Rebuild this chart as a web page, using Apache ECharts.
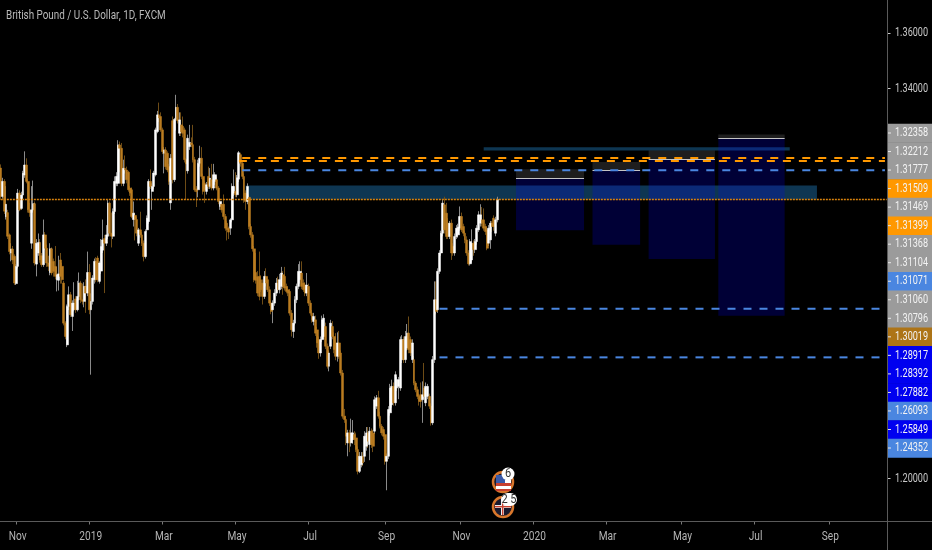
<!DOCTYPE html>
<html><head><meta charset="utf-8">
<style>html,body{margin:0;padding:0;background:#000}#c{width:932px;height:550px}</style>
<script src="https://cdn.jsdelivr.net/npm/echarts@6/dist/echarts.min.js"></script>
</head><body><div id="c"></div>
<script>
const chartTitle = 'British Pound / U.S. Dollar, 1D, FXCM';
const firstDay = '2018-10-19';
const axisPriceLabels = [1.2, 1.34, 1.36];
const sideLabels = ['1.32358','1.32212','1.31777','1.31509','1.31469','1.31399','1.31368','1.31104','1.31071','1.31060','1.30796','1.30019','1.28917','1.28392','1.27882','1.26093','1.25849','1.24352'];
const sideKinds  = ['gray','gray','gray','orange','gray','orange','gray','gray','blue','gray','gray','brown','pure','pure','pure','blue','pure','blue'];
const orangeLevels = [['2019-05-07',1.31509],['2019-05-03',1.31399]];
const blueLevels = [['2019-05-07',1.31071],['2019-10-16',1.26093],['2019-10-16',1.24352]];
const lastPrice = 1.30019;
const zones = [['2019-05-09','2020-08-21',1.30526,1.30019],['2019-11-21','2020-07-30',1.3190,1.3178]];
const boxStart = ['2019-12-18','2020-02-19','2020-04-06','2020-06-02'];
const boxEnd   = ['2020-02-12','2020-03-30','2020-05-29','2020-07-27'];
const boxCap   = [1.31104,1.31368,1.31777,1.32358];
const boxEntry = [1.30796,1.31060,1.31469,1.32212];
const boxFloor = [1.28917,1.28392,1.27882,1.25849];
// [open, close, low, high]
const ohlc = [
[1.3115,1.3013,1.3000,1.3128],[1.3013,1.3067,1.3005,1.3080],[1.3067,1.2960,1.2950,1.3075],[1.2940,1.2985,1.2930,1.3050],[1.2955,1.2870,1.2860,1.2965],
[1.2875,1.2815,1.2805,1.2880],[1.2810,1.2824,1.2780,1.2845],[1.2824,1.2785,1.2770,1.2835],[1.2798,1.2702,1.2695,1.2805],[1.2700,1.2762,1.2695,1.2770],
[1.2762,1.3025,1.2755,1.3040],[1.3025,1.2965,1.2960,1.3035],[1.2970,1.3018,1.2965,1.3030],[1.3018,1.3096,1.3005,1.3105],[1.3090,1.3126,1.3080,1.3175],
[1.3126,1.3067,1.3060,1.3150],[1.3067,1.2965,1.2955,1.3075],[1.2965,1.2955,1.2940,1.2990],[1.2845,1.2965,1.2825,1.3050],[1.2965,1.2987,1.2955,1.3070],
[1.2987,1.2774,1.2765,1.2995],[1.2770,1.2845,1.2726,1.2860],[1.2810,1.2848,1.2800,1.2880],[1.2848,1.2785,1.2775,1.2860],[1.2800,1.2768,1.2760,1.2810],
[1.2768,1.2875,1.2760,1.2930],[1.2875,1.2827,1.2820,1.2885],[1.2827,1.2774,1.2760,1.2840],[1.2774,1.2762,1.2745,1.2800],[1.2740,1.2825,1.2730,1.2845],
[1.2825,1.2738,1.2730,1.2830],[1.2780,1.2744,1.2725,1.2790],[1.2762,1.2726,1.2715,1.2835],[1.2714,1.2732,1.2672,1.2760],[1.2712,1.2735,1.2675,1.2800],
[1.2785,1.2726,1.2700,1.2810],[1.2762,1.2714,1.2700,1.2775],[1.2702,1.2558,1.2550,1.2710],[1.2558,1.2510,1.2500,1.2565],[1.2480,1.2618,1.2472,1.2625],
[1.2618,1.2660,1.2605,1.2690],[1.2660,1.2588,1.2580,1.2670],[1.2582,1.2630,1.2530,1.2640],[1.2606,1.2630,1.2600,1.2705],[1.2645,1.2606,1.2595,1.2655],
[1.2606,1.2654,1.2600,1.2710],[1.2654,1.2702,1.2640,1.2740],[1.2702,1.2642,1.2630,1.2710],[1.2642,1.2636,1.2625,1.2700],[1.2636,1.2690,1.2615,1.2705],
[1.2690,1.2666,1.2595,1.2715],[1.2666,1.2740,1.2655,1.2815],[1.2740,1.2606,1.2590,1.2770],[1.2606,1.2636,1.2373,1.2665],[1.2636,1.2720,1.2625,1.2730],
[1.2714,1.2780,1.2700,1.2790],[1.2780,1.2714,1.2705,1.2795],[1.2792,1.2714,1.2705,1.2800],[1.2708,1.2774,1.2700,1.2780],[1.2745,1.2833,1.2735,1.2860],
[1.2820,1.2857,1.2810,1.2930],[1.2862,1.2845,1.2666,1.2875],[1.2845,1.2875,1.2835,1.2910],[1.2870,1.2989,1.2860,1.3000],[1.2989,1.2881,1.2870,1.2995],
[1.2881,1.2870,1.2830,1.2955],[1.2870,1.2959,1.2860,1.2970],[1.2959,1.3067,1.2950,1.3085],[1.3060,1.3085,1.3050,1.3100],[1.3060,1.3198,1.3050,1.3215],
[1.3198,1.3186,1.3100,1.3210],[1.3186,1.3060,1.3050,1.3205],[1.3060,1.3114,1.3050,1.3145],[1.3114,1.3108,1.3095,1.3160],[1.3108,1.3073,1.3060,1.3120],
[1.3100,1.3037,1.3030,1.3105],[1.3043,1.3025,1.3015,1.3050],[1.3037,1.2941,1.2935,1.3045],[1.2930,1.2953,1.2905,1.2995],[1.2945,1.2930,1.2855,1.2955],
[1.2930,1.2881,1.2870,1.2940],[1.2845,1.2893,1.2835,1.2900],[1.2893,1.2875,1.2865,1.2958],[1.2875,1.2845,1.2835,1.2885],[1.2845,1.2797,1.2780,1.2855],
[1.2797,1.2887,1.2790,1.2895],[1.2893,1.2935,1.2885,1.2945],[1.2923,1.3067,1.2915,1.3075],[1.3067,1.3049,1.3040,1.3110],[1.3031,1.3049,1.2965,1.3060],
[1.3049,1.3097,1.3040,1.3105],[1.3091,1.3252,1.3085,1.3260],[1.3246,1.3306,1.3240,1.3320],[1.3306,1.3295,1.3280,1.3350],[1.3300,1.3252,1.3245,1.3315],
[1.3252,1.3174,1.3165,1.3260],[1.3168,1.3180,1.3096,1.3190],[1.3180,1.3120,1.3110,1.3190],[1.3168,1.3108,1.3100,1.3175],[1.3120,1.3067,1.3055,1.3130],
[1.2990,1.3150,1.2965,1.3165],[1.3285,1.3073,1.3060,1.3300],[1.3073,1.3290,1.3065,1.3295],[1.3290,1.3333,1.3250,1.3378],[1.3333,1.3285,1.3275,1.3345],
[1.3240,1.3288,1.3230,1.3315],[1.3270,1.3245,1.3230,1.3315],[1.3265,1.3240,1.3225,1.3300],[1.3252,1.3145,1.3135,1.3260],[1.3145,1.3130,1.3001,1.3150],
[1.3105,1.3222,1.3095,1.3235],[1.3192,1.3207,1.3180,1.3270],[1.3205,1.3199,1.3190,1.3225],[1.3199,1.3145,1.3135,1.3270],[1.3145,1.3037,1.3030,1.3155],
[1.3040,1.3030,1.2975,1.3050],[1.3037,1.3132,1.3010,1.3145],[1.3132,1.3150,1.3120,1.3195],[1.3150,1.3085,1.3075,1.3190],[1.3085,1.3031,1.3020,1.3095],
[1.3060,1.3037,1.2990,1.3070],[1.3031,1.3055,1.3020,1.3065],[1.3085,1.3049,1.3040,1.3120],[1.3049,1.3079,1.3040,1.3115],[1.3073,1.3043,1.3035,1.3130],
[1.3043,1.3091,1.3035,1.3130],[1.3067,1.3091,1.3055,1.3100],[1.3073,1.3043,1.3035,1.3085],[1.3043,1.2995,1.2985,1.3050],[1.2977,1.2995,1.2965,1.3005],
[1.2985,1.2965,1.2955,1.2995],[1.2985,1.2941,1.2930,1.3020],[1.2941,1.2899,1.2890,1.2950],[1.2917,1.2893,1.2855,1.2925],[1.2899,1.2885,1.2860,1.2905],
[1.2899,1.2929,1.2875,1.2935],[1.2929,1.3049,1.2920,1.3060],[1.3025,1.3049,1.3015,1.3110],[1.3031,1.3019,1.3010,1.3100],[1.3019,1.3080,1.3010,1.3090],
[1.3075,1.3170,1.3065,1.3176],[1.3163,1.3132,1.3120,1.3170],[1.3132,1.3085,1.3075,1.3140],[1.3085,1.3000,1.2990,1.3095],[1.3025,1.2995,1.2965,1.3035],
[1.2995,1.3049,1.2985,1.3060],[1.3010,1.2905,1.2895,1.3020],[1.2905,1.2875,1.2865,1.2915],[1.2875,1.2825,1.2815,1.2885],[1.2825,1.2714,1.2705,1.2835],
[1.2740,1.2712,1.2700,1.2810],[1.2725,1.2666,1.2655,1.2745],
[1.2726,1.2654,1.2640,1.2815],[1.2714,1.2678,1.2670,1.2730],[1.2702,1.2654,1.2625,1.2715],[1.2654,1.2726,1.2645,1.2745],[1.2726,1.2702,1.2690,1.2755],
[1.2714,1.2678,1.2670,1.2725],[1.2678,1.2630,1.2620,1.2690],[1.2630,1.2600,1.2590,1.2640],[1.2606,1.2630,1.2558,1.2640],[1.2630,1.2666,1.2620,1.2680],
[1.2666,1.2702,1.2655,1.2720],[1.2714,1.2678,1.2670,1.2725],[1.2678,1.2714,1.2665,1.2735],[1.2690,1.2738,1.2680,1.2760],[1.2732,1.2690,1.2660,1.2745],
[1.2726,1.2684,1.2675,1.2760],[1.2690,1.2672,1.2665,1.2700],[1.2678,1.2666,1.2655,1.2690],[1.2672,1.2594,1.2585,1.2680],[1.2594,1.2534,1.2510,1.2605],
[1.2528,1.2558,1.2505,1.2570],[1.2558,1.2642,1.2550,1.2655],[1.2642,1.2690,1.2630,1.2700],[1.2690,1.2744,1.2680,1.2770],[1.2714,1.2744,1.2700,1.2780],
[1.2738,1.2690,1.2680,1.2780],[1.2702,1.2678,1.2670,1.2715],[1.2695,1.2666,1.2655,1.2705],[1.2666,1.2695,1.2655,1.2738],[1.2690,1.2630,1.2620,1.2700],
[1.2630,1.2594,1.2585,1.2640],[1.2594,1.2570,1.2560,1.2605],[1.2564,1.2582,1.2550,1.2595],[1.2570,1.2522,1.2512,1.2585],[1.2534,1.2487,1.2470,1.2545],
[1.2499,1.2451,1.2430,1.2510],[1.2451,1.2499,1.2438,1.2510],[1.2499,1.2570,1.2490,1.2585],[1.2510,1.2576,1.2500,1.2590],[1.2546,1.2475,1.2465,1.2560],
[1.2475,1.2403,1.2395,1.2485],[1.2403,1.2451,1.2385,1.2460],[1.2475,1.2558,1.2465,1.2570],[1.2546,1.2510,1.2500,1.2565],[1.2510,1.2463,1.2450,1.2525],
[1.2487,1.2439,1.2425,1.2522],[1.2439,1.2487,1.2420,1.2525],[1.2487,1.2439,1.2430,1.2530],[1.2451,1.2379,1.2370,1.2460],[1.2379,1.2224,1.2215,1.2390],
[1.2224,1.2212,1.2200,1.2250],[1.2212,1.2152,1.2120,1.2225],[1.2128,1.2164,1.2080,1.2175],[1.2164,1.2128,1.2095,1.2175],[1.2128,1.2164,1.2115,1.2215],
[1.2140,1.2164,1.2125,1.2210],[1.2158,1.2140,1.2120,1.2170],[1.2146,1.2104,1.2095,1.2165],[1.2104,1.2026,1.2015,1.2115],[1.2026,1.2080,1.2020,1.2095],
[1.2050,1.2080,1.2040,1.2095],[1.2080,1.2056,1.2045,1.2095],[1.2080,1.2152,1.2060,1.2170],[1.2116,1.2164,1.2100,1.2185],[1.2164,1.2134,1.2110,1.2185],
[1.2122,1.2170,1.2066,1.2185],[1.2170,1.2122,1.2110,1.2180],[1.2164,1.2116,1.2095,1.2175],[1.2170,1.2283,1.2160,1.2295],[1.2260,1.2290,1.2250,1.2300],
[1.2290,1.2224,1.2215,1.2315],[1.2224,1.2188,1.2180,1.2240],[1.2188,1.2164,1.2155,1.2196],[1.2176,1.2152,1.2140,1.2185],[1.2158,1.2062,1.2050,1.2165],
[1.2062,1.2080,1.1958,1.2090],[1.2080,1.2248,1.2070,1.2260],[1.2236,1.2325,1.2226,1.2340],[1.2265,1.2331,1.2255,1.2355],[1.2331,1.2272,1.2262,1.2345],
[1.2272,1.2373,1.2262,1.2385],[1.2325,1.2355,1.2315,1.2365],[1.2331,1.2355,1.2285,1.2365],[1.2325,1.2499,1.2315,1.2510],[1.2427,1.2499,1.2415,1.2515],
[1.2499,1.2427,1.2415,1.2510],[1.2427,1.2510,1.2415,1.2530],[1.2469,1.2522,1.2460,1.2555],[1.2522,1.2463,1.2450,1.2582],[1.2499,1.2451,1.2440,1.2510],
[1.2427,1.2487,1.2415,1.2500],[1.2427,1.2343,1.2335,1.2440],[1.2343,1.2319,1.2310,1.2350],[1.2319,1.2295,1.2285,1.2330],[1.2295,1.2277,1.2262,1.2305],
[1.2301,1.2277,1.2255,1.2345],[1.2283,1.2301,1.2200,1.2349],[1.2325,1.2295,1.2285,1.2415],[1.2272,1.2331,1.2260,1.2345],[1.2295,1.2331,1.2285,1.2340],
[1.2295,1.2260,1.2250,1.2305],[1.2260,1.2200,1.2190,1.2270],[1.2200,1.2427,1.2192,1.2440],[1.2427,1.2642,1.2415,1.2708],[1.2642,1.2600,1.2590,1.2708],
[1.2606,1.2744,1.2595,1.2755],[1.2744,1.2810,1.2735,1.2820],[1.2810,1.2881,1.2800,1.2890],[1.2881,1.2989,1.2870,1.3000],[1.2983,1.2893,1.2880,1.3012],
[1.2953,1.2869,1.2860,1.2990],[1.2917,1.2869,1.2860,1.2935],[1.2869,1.2917,1.2860,1.2925],[1.2917,1.2810,1.2785,1.2930],[1.2834,1.2810,1.2800,1.2845],
[1.2810,1.2869,1.2800,1.2880],[1.2869,1.2899,1.2860,1.2910],[1.2875,1.2903,1.2865,1.2915],[1.2899,1.2941,1.2890,1.2977],[1.2941,1.2893,1.2885,1.2955],
[1.2905,1.2881,1.2870,1.2915],[1.2881,1.2857,1.2845,1.2890],[1.2857,1.2810,1.2800,1.2870],[1.2810,1.2771,1.2765,1.2820],[1.2771,1.2851,1.2765,1.2860],
[1.2785,1.2845,1.2775,1.2895],[1.2845,1.2822,1.2800,1.2855],[1.2822,1.2851,1.2810,1.2860],[1.2851,1.2899,1.2840,1.2910],[1.2893,1.2947,1.2885,1.2960],
[1.2917,1.2947,1.2905,1.2985],[1.2929,1.2917,1.2905,1.2975],[1.2929,1.2899,1.2890,1.2970],[1.2905,1.2887,1.2875,1.2915],[1.2893,1.2827,1.2820,1.2905],
[1.2845,1.2899,1.2835,1.2910],[1.2857,1.2917,1.2825,1.2925],[1.2917,1.2905,1.2885,1.2925],[1.2935,1.2905,1.2890,1.2945],[1.2881,1.2929,1.2870,1.2940],
[1.2929,1.30019,1.2920,1.3012]
];
const MONTHS = ['Jan','Feb','Mar','Apr','May','Jun','Jul','Aug','Sep','Oct','Nov','Dec'];
const sideColor = {gray:'#9b9b9b',orange:'#ff9800',blue:'#4a86e0',brown:'#ad7417',pure:'#0000f0'};
const font = '13px Roboto, sans-serif';

const days = [];
for (let d = new Date(firstDay + 'T00:00:00Z'); days.length < 522; d.setUTCDate(d.getUTCDate() + 1)) {
  const w = d.getUTCDay();
  if (w !== 0 && w !== 6) days.push(d.toISOString().slice(0, 10));
}
const isTick = i => {
  if (i === 0) return false;
  const m = +days[i].slice(5, 7), pm = +days[i - 1].slice(5, 7);
  return m !== pm && m % 2 === 1;
};
const mapLabel = s => {
  const m = +s.slice(5, 7);
  return m === 1 ? s.slice(0, 4) : MONTHS[m - 1];
};
const bodies = ohlc.map(r => [r[0], r[1], Math.min(r[0], r[1]), Math.max(r[0], r[1])]);
const end = days[days.length - 2];
const area = (a, b, top, bottom, color) => [
  {coord:[a, top], itemStyle:{color}},
  {coord:[b, bottom]}
];
const areaData = zones.map(z => area(z[0], z[1], z[2], z[3], '#0e3652'));
const boxData = [];
boxStart.forEach((s, i) => {
  boxData.push(area(s, boxEnd[i], boxCap[i], boxEntry[i], 'rgba(150,150,150,0.2)'));
  boxData.push(area(s, boxEnd[i], boxEntry[i], boxFloor[i], 'rgba(0,0,255,0.21)'));
});
const entryLines = boxStart.map((s, i) => [
  {coord:[s, boxEntry[i]], lineStyle:{color:'#c4c4c4', width:1, type:'solid'}},
  {coord:[boxEnd[i], boxEntry[i]]}
]);
const levelSeries = (from, to, price, color, width, type, z) => ({
  type:'line', silent:true, z, showSymbol:false, symbol:'none', animation:false,
  data:[[from, price], [to, price]],
  itemStyle:{color}, lineStyle:{color, width, type}
});
const levelLines = [
  ...orangeLevels.map(l => levelSeries(l[0], end, l[1], '#ff9800', 2, [8, 8], 9)),
  ...blueLevels.map(l => levelSeries(l[0], end, l[1], '#4a86e0', 2, [8, 8], 9)),
  levelSeries(days[0], days[days.length - 1], lastPrice, '#d9820c', 1.6, [2, 1], 9)
];

const chart = echarts.init(document.getElementById('c'), null, {renderer:'canvas'});
chart.setOption({
  animation:false,
  backgroundColor:'#000',
  grid:{left:0, right:44.5, top:0, bottom:28.5, containLabel:false, outerBoundsMode:'none'},
  xAxis:{type:'category', data:days, boundaryGap:true,
    axisLine:{show:false},
    axisTick:{show:true, alignWithLabel:true, length:3, interval:isTick, lineStyle:{color:'#777'}},
    axisLabel:{show:false},
    splitLine:{show:false}},
  yAxis:{type:'value', position:'right', min:1.18458, max:1.37184, scale:true,
    axisLine:{show:false},
    axisTick:{show:true, length:3, customValues:axisPriceLabels, lineStyle:{color:'#ccc'}},
    axisLabel:{show:false},
    splitLine:{show:false}},
  series:[
    {type:'candlestick', name:'zones', data:[], z:1, silent:true, markArea:{silent:true, z:1, data:areaData}},
    {type:'candlestick', name:'boxes', data:[], z:2, silent:true, markArea:{silent:true, z:2, data:boxData},
      markLine:{silent:true, symbol:'none', z:3, label:{show:false}, data:entryLines}},
    ...levelLines,
    {type:'candlestick', name:'wicks', data:ohlc, barWidth:1, z:5, silent:true,
      itemStyle:{color:'#8a8a8a', color0:'#6e4c16', borderColor:'#8a8a8a', borderColor0:'#6e4c16', borderWidth:1}},
    {type:'candlestick', name:'bodies', data:bodies, barWidth:2.4, z:6, silent:true,
      itemStyle:{color:'#ffffff', color0:'#bb7c20', borderColor:'#ffffff', borderColor0:'#bb7c20', borderWidth:0.5}}
  ]
});

const g = [];
const line = (x1, y1, x2, y2, c) => g.push({type:'line', silent:true, z:50, shape:{x1,y1,x2,y2}, style:{stroke:c, lineWidth:1}});
const squeezed = (text, x, y, fill, sx, align) => g.push({type:'text', z:60, x, y, scaleX:sx, style:{text, fill, font, align:align || 'left', verticalAlign:'middle'}});
line(0, 521.5, 932, 521.5, '#5a5a5a');
line(887.5, 0, 887.5, 550, '#5a5a5a');
squeezed(chartTitle, 6, 16, '#b9b9b9', 0.76);
days.forEach((d, i) => {
  if (isTick(i)) squeezed(mapLabel(d), chart.convertToPixel({xAxisIndex:0}, d) + 1.5, 537, '#b4b4b4', 0.78, 'center');
});
axisPriceLabels.forEach(p => squeezed(p.toFixed(5), 895, chart.convertToPixel({yAxisIndex:0}, p), '#c8c8c8', 0.7));
const stepY = 18.53, startY = 133;
sideLabels.forEach((t, i) => {
  const cy = startY + i * stepY;
  g.push({type:'rect', z:55, shape:{x:888, y:cy - stepY / 2, width:44, height:stepY + 0.5}, style:{fill:sideColor[sideKinds[i]]}});
  g.push({type:'rect', z:56, shape:{x:888, y:cy - 0.5, width:3, height:1}, style:{fill:'#e8e8e8'}});
  squeezed(t, 895, cy, '#f2f2f2', 0.7);
});
// event badges
[[503,482],[503,507]].forEach(c => g.push({type:'circle', z:40, shape:{cx:c[0], cy:c[1], r:10}, style:{fill:'#1a1a2e', stroke:'#d9772c', lineWidth:2.5}}));
[[475,4,'#c8402f'],[480,3,'#ffffff'],[483,3,'#c8402f'],[486,3,'#ffffff'],[489,2,'#c8402f']].forEach(s =>
  g.push({type:'rect', z:41, shape:{x:496, y:s[0], width:15, height:s[1]}, style:{fill:s[2]}}));
g.push({type:'rect', z:41, shape:{x:496, y:475, width:9, height:8}, style:{fill:'#3a5aa8'}});
g.push({type:'rect', z:41, shape:{x:495, y:505, width:16, height:3}, style:{fill:'#eee'}});
g.push({type:'rect', z:41, shape:{x:501, y:499, width:3, height:16}, style:{fill:'#eee'}});
g.push({type:'rect', z:42, shape:{x:495, y:506, width:16, height:1.4}, style:{fill:'#c8402f'}});
g.push({type:'rect', z:42, shape:{x:502, y:499, width:1.4, height:16}, style:{fill:'#c8402f'}});
g.push({type:'circle', z:43, shape:{cx:508, cy:474, r:6.5}, style:{fill:'#fff'}});
squeezed('6', 508, 474, '#333', 0.85, 'center');
g.push({type:'rect', z:43, shape:{x:501, y:493, width:16, height:13, r:6.5}, style:{fill:'#fff'}});
squeezed('2 5', 509, 499.5, '#333', 0.85, 'center');
chart.setOption({graphic:g});
</script></body></html>
